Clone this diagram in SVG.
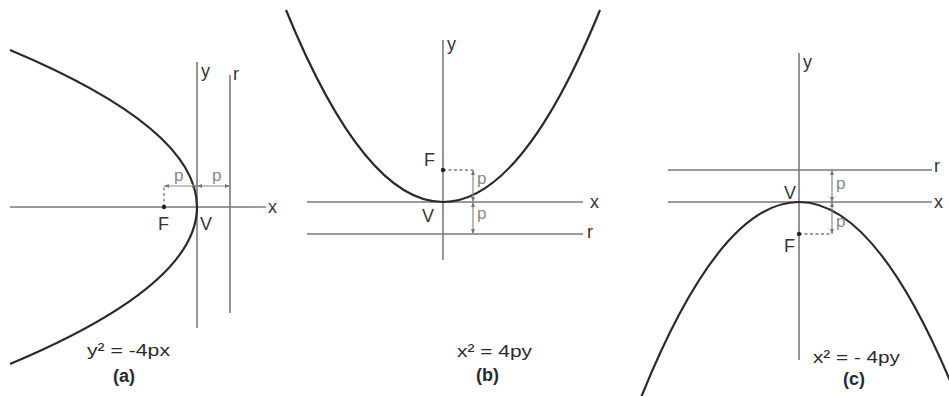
<svg xmlns="http://www.w3.org/2000/svg" width="949" height="396" viewBox="0 0 949 396">
<style>
.axis{stroke:#7a7a7a;stroke-width:1.6;fill:none}
.curve{stroke:#2a2a2a;stroke-width:2.2;fill:none}
.dim{stroke:#8a8a8a;stroke-width:1.2;fill:none}
.dash{stroke:#7a7a7a;stroke-width:1.3;fill:none;stroke-dasharray:3 2.5}
.lbl{font-family:"Liberation Sans",Arial,sans-serif;font-size:18px;fill:#333}
.plbl{font-family:"Liberation Sans",Arial,sans-serif;font-size:17px;fill:#888}
.eq{font-family:"Liberation Sans",Arial,sans-serif;font-size:17px;fill:#2a2a2a}
.cap{font-family:"Liberation Sans",Arial,sans-serif;font-size:18px;font-weight:bold;fill:#2a2a2a}
</style>
<defs>
<marker id="ah" viewBox="0 0 10 10" refX="10" refY="5" markerWidth="5" markerHeight="5" orient="auto-start-reverse" markerUnits="userSpaceOnUse">
<path d="M0,1 L10,5 L0,9 z" fill="#777"/>
</marker>
</defs>
<rect width="949" height="396" fill="#fff"/>

<g id="panel-a">
<line class="axis" x1="10" y1="207" x2="266" y2="207"/>
<line class="axis" x1="197" y1="62" x2="197" y2="328"/>
<line class="axis" x1="230" y1="75" x2="230" y2="313"/>
<path class="curve" d="M10,50 Q384,207 10,364"/>
<g id="dims-a">
<line class="dash" x1="164" y1="207" x2="164" y2="186"/>
<line class="dim" x1="164" y1="186" x2="197" y2="186" marker-start="url(#ah)" marker-end="url(#ah)"/>
<line class="dim" x1="197" y1="186" x2="230" y2="186" marker-start="url(#ah)" marker-end="url(#ah)"/>
</g>
<circle cx="164" cy="207" r="2.2" fill="#222"/>
<text class="plbl" x="174" y="181">p</text>
<text class="plbl" x="212" y="181">p</text>
<text class="lbl" x="201" y="77">y</text>
<text class="lbl" x="233" y="80" font-size="15">r</text>
<text class="lbl" x="268" y="213">x</text>
<text class="lbl" x="158" y="230">F</text>
<text class="lbl" x="200" y="230">V</text>
<text class="eq" x="87" y="356" textLength="83" lengthAdjust="spacingAndGlyphs">y² = -4px</text>
<text class="cap" x="113" y="382">(a)</text>
</g>

<g id="panel-b">
<line class="axis" x1="307" y1="202" x2="583" y2="202"/>
<line class="axis" x1="307" y1="234" x2="583" y2="234"/>
<line class="axis" x1="443" y1="40" x2="443" y2="260"/>
<path class="curve" d="M286,10 Q443,394 600,10"/>
<g id="dims-b">
<line class="dash" x1="443" y1="170" x2="473" y2="170"/>
<line class="dim" x1="473" y1="170" x2="473" y2="202" marker-start="url(#ah)" marker-end="url(#ah)"/>
<line class="dim" x1="473" y1="202" x2="473" y2="234" marker-start="url(#ah)" marker-end="url(#ah)"/>
</g>
<circle cx="443" cy="170" r="2.2" fill="#222"/>
<text class="plbl" x="477" y="184">p</text>
<text class="plbl" x="477" y="219">p</text>
<text class="lbl" x="447" y="50">y</text>
<text class="lbl" x="587" y="238" font-size="15">r</text>
<text class="lbl" x="590" y="208">x</text>
<text class="lbl" x="424" y="166">F</text>
<text class="lbl" x="422" y="222">V</text>
<text class="eq" x="457" y="357" textLength="75" lengthAdjust="spacingAndGlyphs">x² = 4py</text>
<text class="cap" x="476" y="381">(b)</text>
</g>

<g id="panel-c">
<line class="axis" x1="668" y1="170" x2="932" y2="170"/>
<line class="axis" x1="668" y1="202" x2="932" y2="202"/>
<line class="axis" x1="799" y1="53" x2="799" y2="360"/>
<path class="curve" d="M640,400 Q799,4 958,400"/>
<g id="dims-c">
<line class="dash" x1="799" y1="234" x2="832" y2="234"/>
<line class="dim" x1="832" y1="170" x2="832" y2="202" marker-start="url(#ah)" marker-end="url(#ah)"/>
<line class="dim" x1="832" y1="202" x2="832" y2="234" marker-start="url(#ah)" marker-end="url(#ah)"/>
</g>
<circle cx="799" cy="234" r="2.2" fill="#222"/>
<text class="plbl" x="836" y="189">p</text>
<text class="plbl" x="836" y="227">p</text>
<text class="lbl" x="803" y="68">y</text>
<text class="lbl" x="934" y="172" font-size="15">r</text>
<text class="lbl" x="934" y="208">x</text>
<text class="lbl" x="784" y="252">F</text>
<text class="lbl" x="784" y="199">V</text>
<text class="eq" x="813" y="363" textLength="87" lengthAdjust="spacingAndGlyphs">x² = - 4py</text>
<text class="cap" x="843" y="385">(c)</text>
</g>
</svg>
